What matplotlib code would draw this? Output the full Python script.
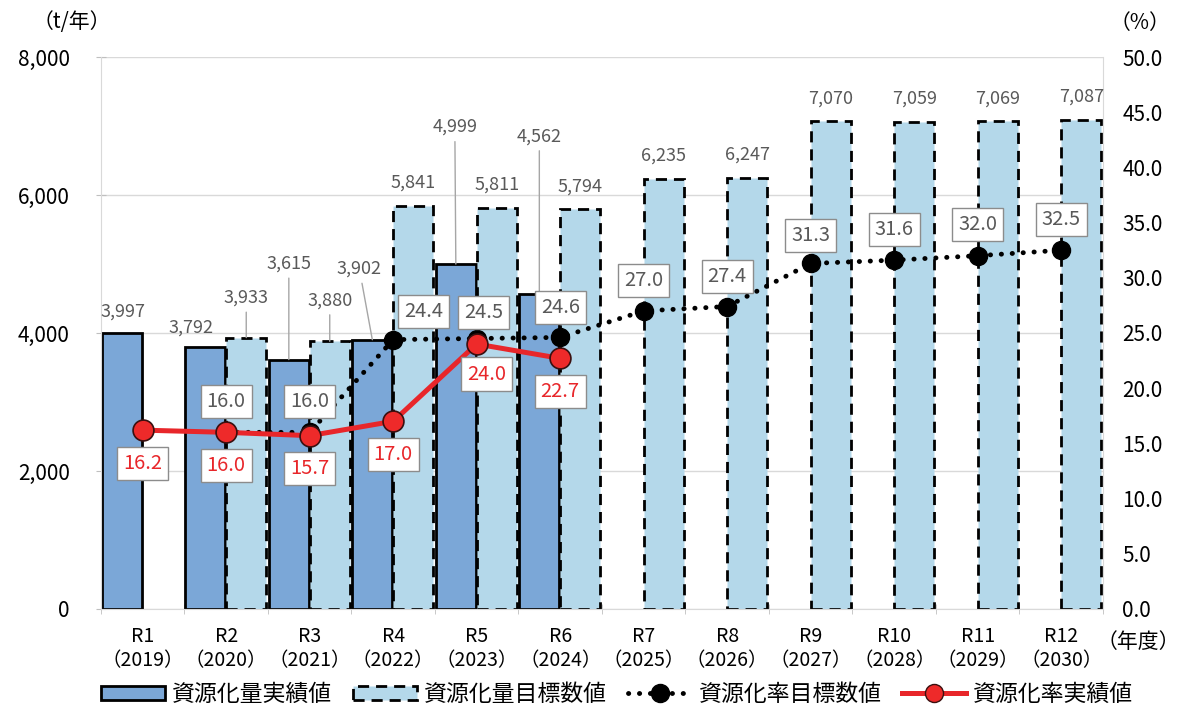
import numpy as np
import matplotlib.pyplot as plt
from matplotlib.patches import Patch
from matplotlib.lines import Line2D

plt.rcParams['font.family'] = ['Noto Sans CJK JP', 'DejaVu Sans']

# 年度
categories = ['R1', 'R2', 'R3', 'R4', 'R5', 'R6', 'R7', 'R8', 'R9', 'R10', 'R11', 'R12']
years = ['2019', '2020', '2021', '2022', '2023', '2024', '2025', '2026', '2027', '2028', '2029', '2030']

# 資源化量 (t/年)  実績は R1-R6, 目標は R2-R12
actual_amount = [3997, 3792, 3615, 3902, 4999, 4562]
target_amount = [3933, 3880, 5841, 5811, 5794, 6235, 6247, 7070, 7059, 7069, 7087]

# 資源化率 (%)
actual_rate = [16.2, 16.0, 15.7, 17.0, 24.0, 22.7]
target_rate = [16.0, 16.0, 24.4, 24.5, 24.6, 27.0, 27.4, 31.3, 31.6, 32.0, 32.5]

x = np.arange(len(categories))
xa = x[:len(actual_amount)]
xt = x[1:]

c_actual = '#7BA7D7'
c_target = '#B4D8EA'
c_red = '#E8262A'
c_grid = '#d9d9d9'
c_label = '#595959'
dash = (0, (4, 2.5))

fig = plt.figure(figsize=(11.78, 7.11), dpi=100)
ax = fig.add_axes([0.0857, 0.1435, 0.8506, 0.7763])

ax.bar(xa - 0.25, actual_amount, width=0.48, color=c_actual, edgecolor='black',
       linewidth=2, zorder=2)
ax.bar(xt + 0.24, target_amount, width=0.48, color=c_target, edgecolor='black',
       linewidth=2, linestyle=dash, zorder=2)

ax.set_xlim(-0.5, 11.5)
ax.set_ylim(0, 8000)
ax.set_yticks(np.arange(0, 8001, 2000))
ax.set_yticklabels([f'{v:,}' for v in range(0, 8001, 2000)], fontsize=15)
ax.yaxis.grid(True, color=c_grid, lw=1, zorder=0)
ax.set_axisbelow(True)
ax.tick_params(axis='y', direction='inout', length=7, color='#bfbfbf', pad=19)

ax.set_xticks(x)
ax.set_xticklabels([f'{c}\n（{y}）' for c, y in zip(categories, years)], fontsize=14,
                   linespacing=1.25)
ax.set_xticks(np.arange(-0.5, 12, 1), minor=True)
ax.tick_params(axis='x', which='major', length=0, pad=12)
ax.tick_params(axis='x', which='minor', direction='inout', length=7, color='#bfbfbf')

ax.spines['top'].set_visible(False)
for s in ['left', 'right', 'bottom']:
    ax.spines[s].set_color(c_grid)

# 資源化量ラベル (dx, dy, 引出線)
actual_off = [(1, 22, False), (-14, 20, False), (0, 96, True), (-13, 71, True),
              (-1, 137, True), (0, 158, True)]
target_off = [(0, 40, True), (0, 41, True)] + [(0, 23, False)] * 9

lead = dict(arrowstyle='-', color='#a6a6a6', lw=1, shrinkA=2, shrinkB=0)
for xi, v, (dx, dy, ld) in zip(xa - 0.25, actual_amount, actual_off):
    ax.annotate(f'{v:,}', xy=(xi, v), xytext=(dx, dy), textcoords='offset pixels',
                ha='center', va='center', fontsize=13, color=c_label,
                arrowprops=lead if ld else None, zorder=4)
for xi, v, (dx, dy, ld) in zip(xt + 0.24, target_amount, target_off):
    ax.annotate(f'{v:,}', xy=(xi, v), xytext=(dx, dy), textcoords='offset pixels',
                ha='center', va='center', fontsize=13, color=c_label,
                arrowprops=lead if ld else None, zorder=4)

# 資源化率 (右軸)
ax2 = ax.twinx()
ax2.set_ylim(0, 50)
ax2.set_yticks(np.arange(0, 51, 5))
ax2.set_yticklabels([f'{v:.1f}' for v in range(0, 51, 5)], fontsize=15)
ax2.tick_params(axis='y', length=0, pad=14)
for s in ax2.spines.values():
    s.set_visible(False)

ax2.plot(xt, target_rate, color='black', lw=3.5, ls=(0, (0.05, 2.2)),
         dash_capstyle='round', marker='o', ms=13, mfc='black', mec='black', zorder=3)
ax2.plot(xa, actual_rate, color=c_red, lw=3.6, marker='o', ms=15, mfc='#EE2A2A',
         mec='#3a1010', mew=1.2, zorder=4)

box = dict(boxstyle='square,pad=0.3', fc='white', ec='#8c8c8c', lw=1)
t_off = [(0, 31), (0, 31), (30, 28), (7, 26), (0, 30), (0, 30), (0, 30), (0, 28),
         (0, 31), (0, 31), (0, 31)]
a_off = [(0, -33), (0, -33), (0, -33), (0, -33), (10, -30), (0, -33)]
for xi, v, (dx, dy) in zip(xt, target_rate, t_off):
    ax2.annotate(f'{v:.1f}', xy=(xi, v), xytext=(dx, dy), textcoords='offset pixels',
                 ha='center', va='center', fontsize=14.5, color=c_label, bbox=box, zorder=5)
for xi, v, (dx, dy) in zip(xa, actual_rate, a_off):
    ax2.annotate(f'{v:.1f}', xy=(xi, v), xytext=(dx, dy), textcoords='offset pixels',
                 ha='center', va='center', fontsize=14.5, color=c_red, bbox=box, zorder=5)

fig.text(72 / 1178, 1 - 22 / 711, '（t/年）', ha='center', va='center', fontsize=15)
fig.text(1140 / 1178, 1 - 23 / 711, '（%）', ha='center', va='center', fontsize=15)
fig.text(1138 / 1178, 1 - 642 / 711, '（年度）', ha='center', va='center', fontsize=15)

handles = [
    Patch(facecolor=c_actual, edgecolor='black', linewidth=2),
    Patch(facecolor=c_target, edgecolor='black', linewidth=2, linestyle=dash),
    Line2D([], [], color='black', lw=3.5, ls=(0, (0.05, 2.2)), dash_capstyle='round',
           marker='o', ms=13, mfc='black', mec='black'),
    Line2D([], [], color=c_red, lw=3.6, marker='o', ms=13, mfc='#EE2A2A', mec='#3a1010'),
]
labels = ['資源化量実績値', '資源化量目標数値', '資源化率目標数値', '資源化率実績値']
fig.legend(handles, labels, loc='lower center', bbox_to_anchor=(0.524, -0.022), ncol=4,
           frameon=False, fontsize=16.5, handlelength=2.8, handleheight=0.6,
           columnspacing=0.9, handletextpad=0.3)

fig.savefig('out.png', dpi=100)
